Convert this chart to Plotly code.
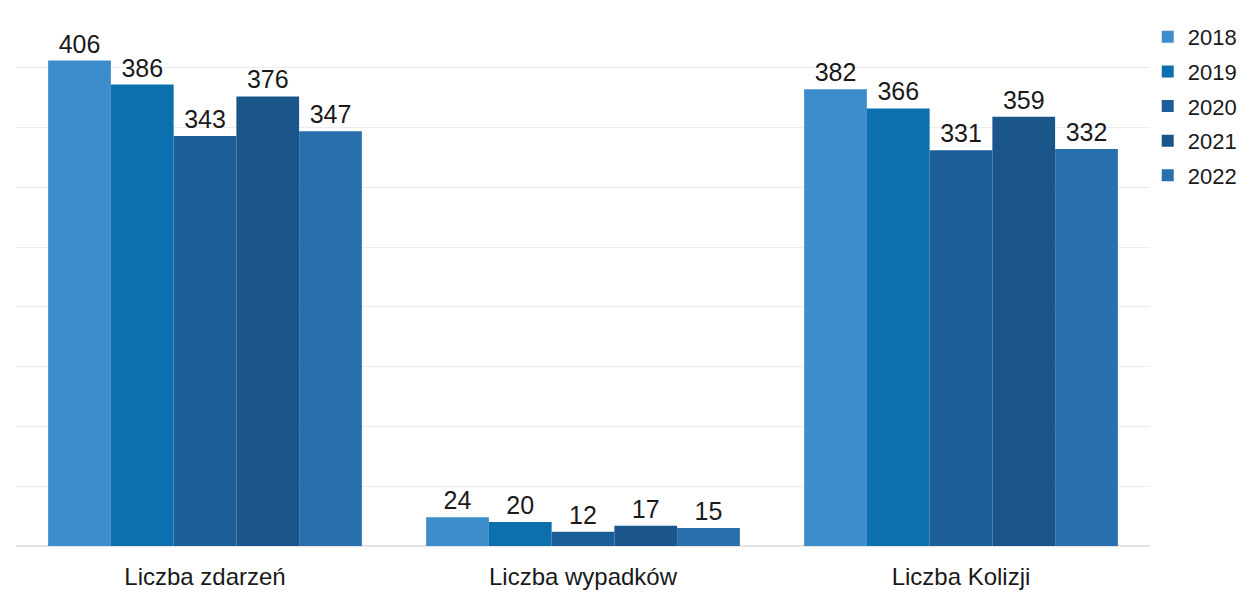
import plotly.graph_objects as go

categories = ["Liczba zdarzeń", "Liczba wypadków", "Liczba Kolizji"]
years = ["2018", "2019", "2020", "2021", "2022"]
values = {
    "2018": [406, 24, 382],
    "2019": [386, 20, 366],
    "2020": [343, 12, 331],
    "2021": [376, 17, 359],
    "2022": [347, 15, 332],
}
colors = {
    "2018": "#3d8ccc",
    "2019": "#0c6fae",
    "2020": "#1c5e98",
    "2021": "#1b568b",
    "2022": "#2870ad",
}

fig = go.Figure()
for y in years:
    fig.add_trace(go.Bar(
        name=y, x=categories, y=values[y], legendgroup=y,
        marker=dict(color=colors[y], line=dict(width=0)),
        text=[str(v) for v in values[y]],
        textposition="outside",
        textfont=dict(size=25, color="#1a1a1a"),
        cliponaxis=False,
    ))

fig.update_layout(
    width=1252, height=597,
    barmode="group", bargap=0.17, bargroupgap=0,
    paper_bgcolor="white", plot_bgcolor="white",
    font=dict(family="Liberation Sans, Arial, sans-serif", size=24, color="#1a1a1a"),
    margin=dict(l=8, r=110, t=0, b=59, autoexpand=False),
    legend=dict(x=0.998, xanchor="left", y=0.985, yanchor="top",
                font=dict(size=22), itemwidth=30, tracegroupgap=3,
                bgcolor="rgba(0,0,0,0)"),
    xaxis=dict(showgrid=False, showline=False, ticks="", tickfont=dict(size=24),
               automargin=False, ticklabelstandoff=14),
    yaxis=dict(range=[0, 450], dtick=50, showgrid=True, gridcolor="#ececec",
               showticklabels=False, zeroline=True, zerolinecolor="#e4e4e4",
               showline=False, automargin=False),
)
fig.write_html("out.html")
